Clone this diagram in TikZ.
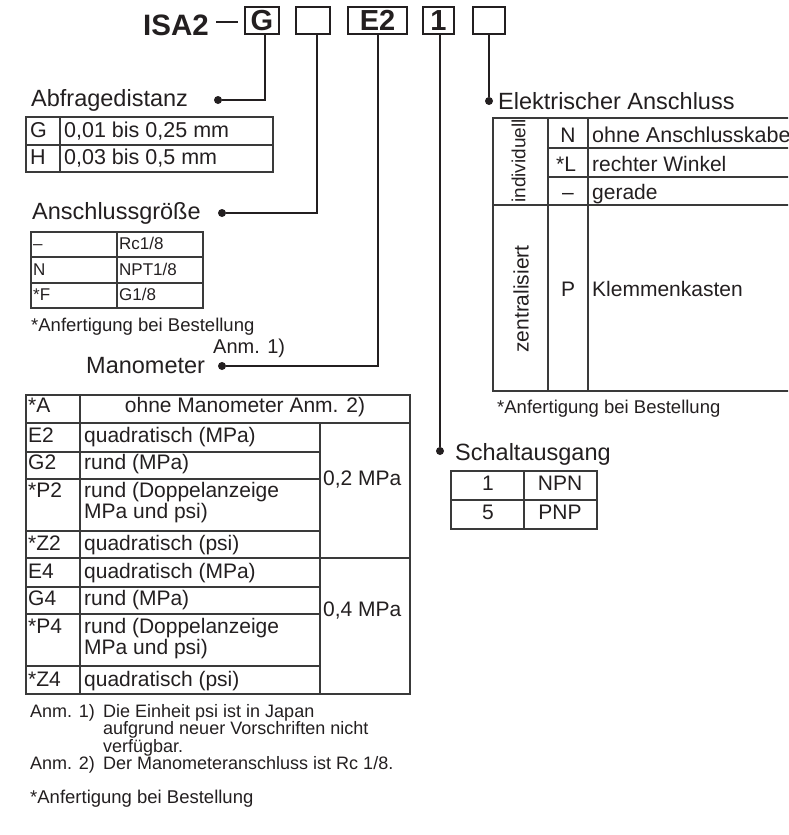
\documentclass[tikz,border=0pt]{standalone}
\usepackage{fontspec}
\setmainfont{Liberation Sans}
\definecolor{ink}{HTML}{231F20}
\definecolor{rule}{HTML}{3A3A3A}
\begin{document}
\begin{tikzpicture}[x=1pt,y=-1pt,
  every node/.style={inner sep=0pt, text=ink},
  T/.style={anchor=base west},
  C/.style={anchor=base},
  hd/.style={font=\fontsize{23.5}{26}\selectfont},
  tb/.style={font=\fontsize{21}{22}\selectfont},
  sm/.style={font=\fontsize{17}{19}\selectfont},
  nt/.style={font=\fontsize{18.5}{19}\selectfont},
  ntb/.style={font=\fontsize{18}{19}\selectfont},
  grid/.style={draw=rule, line width=1.1pt},
  conn/.style={draw=ink, line width=1.6pt},
  dotnode/.style={circle, fill=ink, minimum size=8pt},
  codebox/.style={draw=ink, line width=2pt, minimum height=27pt, font=\bfseries\fontsize{29}{30}\selectfont}
]
\path[use as bounding box] (0,0) rectangle (788,835);
\clip (0,0) rectangle (788,835);

% ---------- header ----------
\node[T, font=\bfseries\fontsize{29.5}{30}\selectfont] (isa) at (143,35) {ISA2};
\coordinate (dash1) at (216,22);
\coordinate (dash2) at (238,22);
\draw[conn] (dash1) -- (dash2);
\node[codebox, minimum width=34pt] (bG) at (262,20.5) {G};
\node[codebox, minimum width=34pt] (b2) at (313,20.5) {};
\node[codebox, minimum width=59pt] (bE) at (377.5,20.5) {E2};
\node[codebox, minimum width=31pt] (b1) at (438.5,20.5) {1};
\node[codebox, minimum width=32pt] (b5) at (489,20.5) {};

% ---------- dots & connectors ----------
\node[dotnode] (dA) at (218,100) {};
\node[dotnode] (dB) at (222,213) {};
\node[dotnode] (dM) at (222,366) {};
\node[dotnode] (dS) at (440,451) {};
\node[dotnode] (dE) at (489,101) {};
\coordinate (jA) at (265,100);
\coordinate (jB) at (317,213);
\coordinate (jM) at (378,366);
\draw[conn] (bG.south -| jA) -- (jA) -- (dA);
\draw[conn] (b2.south -| jB) -- (jB) -- (dB);
\draw[conn] (bE.south -| jM) -- (jM) -- (dM);
\draw[conn] (b1.south -| dS) -- (dS);
\draw[conn] (b5.south) -- (dE);

% ---------- Abfragedistanz ----------
\node[T, hd] (hA) at (31,106) {Abfragedistanz};
\draw[grid] (26,117) rectangle (273,172);
\draw[grid] (26,145) -- (273,145);
\draw[grid] (60,117) -- (60,172);
\node[T, font=\fontsize{21.5}{22}\selectfont] (a1) at (30,137) {G};
\node[T, font=\fontsize{21.5}{22}\selectfont] (a2) at (64,137) {0,01 bis 0,25 mm};
\node[T, font=\fontsize{21.5}{22}\selectfont] (a3) at (30,164) {H};
\node[T, font=\fontsize{21.5}{22}\selectfont] (a4) at (64,164) {0,03 bis 0,5 mm};

% ---------- Anschlussgroesse ----------
\node[T, hd] (hB) at (32,219) {Anschlussgröße};
\draw[grid] (31,232) rectangle (203,308);
\draw[grid] (31,257) -- (203,257);
\draw[grid] (31,283) -- (203,283);
\draw[grid] (117,232) -- (117,308);
\node[T, sm] (g1) at (33,249) {–};
\node[T, sm] (g2) at (119,249) {Rc1/8};
\node[T, sm] (g3) at (33,275) {N};
\node[T, sm] (g4) at (119,275) {NPT1/8};
\node[T, sm] (g5) at (33,300) {*F};
\node[T, sm] (g6) at (119,300) {G1/8};
\node[T, nt] (fB) at (31,331) {*Anfertigung bei Bestellung};

% ---------- Manometer ----------
\node[T, font=\fontsize{20}{22}\selectfont] (anm) at (213,353) {Anm. 1)};
\node[T, hd] (hM) at (86,373) {Manometer};
\draw[grid] (26,395) rectangle (410,694);
\draw[grid] (26,423) -- (410,423);
\draw[grid] (26,558) -- (410,558);
\draw[grid] (80,395) -- (80,694);
\draw[grid] (320,423) -- (320,694);
\foreach \yy in {452,479,531,587,614,666} \draw[grid] (26,\yy) -- (320,\yy);
\node[T, tb] (m0) at (28,412) {*A};
\node[C, tb] (m0t) at (245,412) {ohne Manometer Anm. 2)};
\node[T, tb] (m1) at (28,442) {E2};
\node[T, tb] (m1t) at (84,442) {quadratisch (MPa)};
\node[T, tb] (m2) at (28,469) {G2};
\node[T, tb] (m2t) at (84,469) {rund (MPa)};
\node[T, tb] (m3) at (28,497) {*P2};
\node[T, tb] (m3t) at (84,497) {rund (Doppelanzeige};
\node[T, tb] (m3u) at (84,518) {MPa und psi)};
\node[T, tb] (m4) at (28,550) {*Z2};
\node[T, tb] (m4t) at (84,550) {quadratisch (psi)};
\node[T, tb] (m5) at (28,578) {E4};
\node[T, tb] (m5t) at (84,578) {quadratisch (MPa)};
\node[T, tb] (m6) at (28,605) {G4};
\node[T, tb] (m6t) at (84,605) {rund (MPa)};
\node[T, tb] (m7) at (28,633) {*P4};
\node[T, tb] (m7t) at (84,633) {rund (Doppelanzeige};
\node[T, tb] (m7u) at (84,654) {MPa und psi)};
\node[T, tb] (m8) at (28,686) {*Z4};
\node[T, tb] (m8t) at (84,686) {quadratisch (psi)};
\node[T, tb] (p2) at (323,485) {0,2 MPa};
\node[T, tb] (p4) at (323,616) {0,4 MPa};

% ---------- notes ----------
\node[T, ntb] (n1) at (30,717) {Anm. 1)};
\node[T, ntb] (n1a) at (103,717) {Die Einheit psi ist in Japan};
\node[T, ntb] (n1b) at (103,734.5) {aufgrund neuer Vorschriften nicht};
\node[T, ntb] (n1c) at (103,752) {verfügbar.};
\node[T, ntb] (n2) at (30,769.5) {Anm. 2)};
\node[T, ntb] (n2a) at (103,769.5) {Der Manometeranschluss ist Rc 1/8.};
\node[T, nt] (n3) at (30,803) {*Anfertigung bei Bestellung};

% ---------- Elektrischer Anschluss ----------
\node[T, hd] (hE) at (498,109) {Elektrischer Anschluss};
\draw[grid] (800,118) -- (493,118) -- (493,391) -- (800,391);
\draw[grid] (548,118) -- (548,391);
\draw[grid] (588,118) -- (588,391);
\draw[grid] (548,148) -- (800,148);
\draw[grid] (548,177) -- (800,177);
\draw[grid] (493,205) -- (800,205);
\node[rotate=90, font=\fontsize{19}{20}\selectfont] (ind) at (518.5,161) {individuell};
\node[rotate=90, font=\fontsize{21}{22}\selectfont] (zen) at (521,299) {zentralisiert};
\node[C, tb] (e1) at (568,142) {N};
\node[T, font=\fontsize{21.5}{22}\selectfont] (e1t) at (592,142) {ohne Anschlusskabel};
\node[C, tb] (e2) at (566,171) {*L};
\node[T, tb] (e2t) at (592,171) {rechter Winkel};
\node[C, tb] (e3) at (568,199) {–};
\node[T, tb] (e3t) at (592,199) {gerade};
\node[C, tb] (e4) at (568,296) {P};
\node[T, tb] (e4t) at (592,296) {Klemmenkasten};
\node[T, nt] (fE) at (497,413) {*Anfertigung bei Bestellung};

% ---------- Schaltausgang ----------
\node[T, hd] (hS) at (455,460) {Schaltausgang};
\draw[grid] (451,471) rectangle (597,529);
\draw[grid] (451,500) -- (597,500);
\draw[grid] (524,471) -- (524,529);
\node[C, tb] (s1) at (488,490) {1};
\node[C, tb] (s1t) at (560,490) {NPN};
\node[C, tb] (s2) at (488,519) {5};
\node[C, tb] (s2t) at (560,519) {PNP};
\end{tikzpicture}
\end{document}
